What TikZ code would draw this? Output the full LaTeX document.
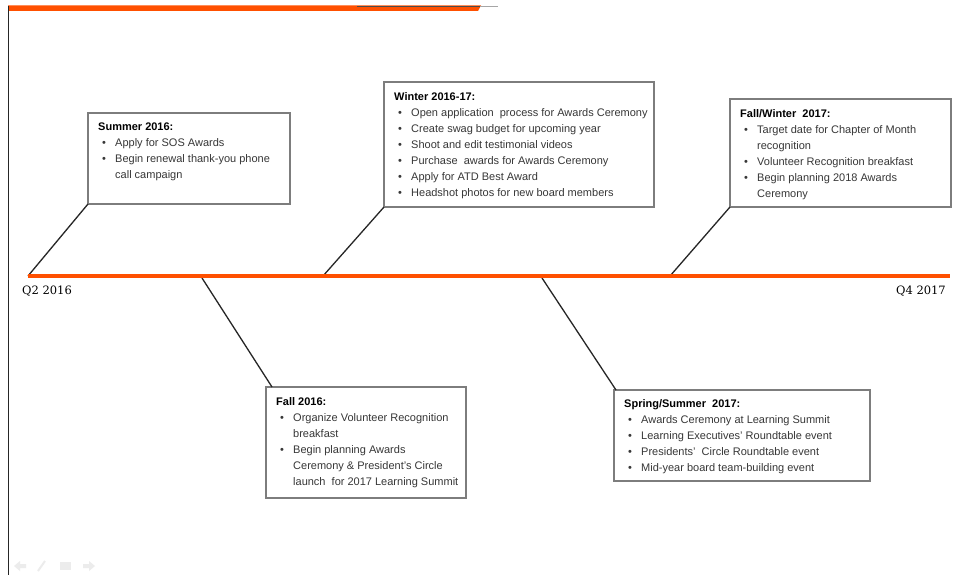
\documentclass[tikz,border=0pt]{standalone}
\usepackage{fontspec}
\setmainfont{Liberation Sans}
\newfontfamily\qfont{DejaVu Serif}
\usetikzlibrary{calc}
\definecolor{tlorange}{RGB}{255,80,0}
\definecolor{boxgray}{RGB}{125,125,125}
\definecolor{txtgray}{RGB}{55,55,55}
\definecolor{icongray}{RGB}{236,236,236}
\newcommand{\bul}[1]{\\\hspace*{4pt}\makebox[13pt][l]{\textbullet}#1}
\newcommand{\cont}[1]{\\\hspace*{17pt}#1}
\newcommand{\ttl}[1]{\textcolor{black}{\textbf{#1}}}
\begin{document}
\begin{tikzpicture}[x=1pt,y=-1pt,
  evbox/.style={draw=boxgray,line width=1.3pt,fill=white,inner sep=0pt,outer sep=0pt,anchor=north west},
  evtext/.style={inner sep=0pt,anchor=north west,align=left,font=\fontsize{11}{16}\selectfont,text=txtgray},
  conn/.style={draw=black!85,line width=1.3pt},
  qlabel/.style={inner sep=0pt,font=\qfont\fontsize{11.5}{13}\selectfont,text=black}]
\useasboundingbox[fill=white] (0,0) rectangle (961,575);

% frame decorations
\fill[tlorange] (8,5.5) -- (481,5.5) -- (478,11) -- (8,11) -- cycle;
\draw[black!70,line width=0.8pt] (357,6) -- (480,6);
\draw[black!35,line width=0.8pt] (480,6) -- (498,6);
\draw[black!85,line width=1pt] (8,6) -- (8,575);

% faint slideshow icons
\fill[icongray] (14,566) -- (20,561) -- (20,564) -- (26,564) -- (26,568) -- (20,568) -- (20,571) -- cycle;
\draw[icongray,line width=2pt] (38,571) -- (45,561);
\fill[icongray] (60,562) rectangle (71,570);
\fill[icongray] (95,566) -- (89,561) -- (89,564) -- (83,564) -- (83,568) -- (89,568) -- (89,571) -- cycle;

% timeline
\coordinate (tlA) at (28,276);
\coordinate (tlB) at (950,276);
\coordinate (c1) at (28,276);
\coordinate (c2) at (323,276);
\coordinate (c3) at (670,276);
\coordinate (c4) at (202,278);
\coordinate (c5) at (542,278);

% boxes
\node[evbox,minimum width=202pt,minimum height=91pt] (b1) at (88,113) {};
\node[evbox,minimum width=270pt,minimum height=125pt] (b2) at (384,82) {};
\node[evbox,minimum width=221pt,minimum height=108pt] (b3) at (730,99) {};
\node[evbox,minimum width=200pt,minimum height=111pt] (b4) at (266,387) {};
\node[evbox,minimum width=256pt,minimum height=91pt] (b5) at (614,390) {};

% connectors
\draw[conn] (c1) -- (b1.south west);
\draw[conn] (c2) -- (b2.south west);
\draw[conn] (c3) -- (b3.south west);
\coordinate (e4) at ($(b4.north west)+(6,0)$);
\coordinate (e5) at ($(b5.north west)+(2,0)$);
\draw[conn] (c4) -- (e4);
\draw[conn] (c5) -- (e5);

\draw[tlorange,line width=4pt] (tlA) -- (tlB);

% labels
\node[qlabel,anchor=west] (q2) at (22,291) {Q2 2016};
\node[qlabel,anchor=east] (q4) at (946,291) {Q4 2017};

% texts
\node[evtext] (t1) at ($(b1.north west)+(10,10)$) {\ttl{Summer 2016:}%
 \bul{Apply for SOS Awards}%
 \bul{Begin renewal thank-you phone}%
 \cont{call campaign}};
\node[evtext] (t2) at ($(b2.north west)+(10,10)$) {\ttl{Winter 2016-17:}%
 \bul{Open application\ \ process for Awards Ceremony}%
 \bul{Create swag budget for upcoming year}%
 \bul{Shoot and edit testimonial videos}%
 \bul{Purchase\ \ awards for Awards Ceremony}%
 \bul{Apply for ATD Best Award}%
 \bul{Headshot photos for new board members}};
\node[evtext] (t3) at ($(b3.north west)+(10,10)$) {\ttl{Fall/Winter\ \ 2017:}%
 \bul{Target date for Chapter of Month}%
 \cont{recognition}%
 \bul{Volunteer Recognition breakfast}%
 \bul{Begin planning 2018 Awards}%
 \cont{Ceremony}};
\node[evtext] (t4) at ($(b4.north west)+(10,10)$) {\ttl{Fall 2016:}%
 \bul{Organize Volunteer Recognition}%
 \cont{breakfast}%
 \bul{Begin planning Awards}%
 \cont{Ceremony \& President's Circle}%
 \cont{launch\ \ for 2017 Learning Summit}};
\node[evtext] (t5) at ($(b5.north west)+(10,9)$) {\ttl{Spring/Summer\ \ 2017:}%
 \bul{Awards Ceremony at Learning Summit}%
 \bul{Learning Executives' Roundtable event}%
 \bul{Presidents'\ \ Circle Roundtable event}%
 \bul{Mid-year board team-building event}};
\end{tikzpicture}
\end{document}
